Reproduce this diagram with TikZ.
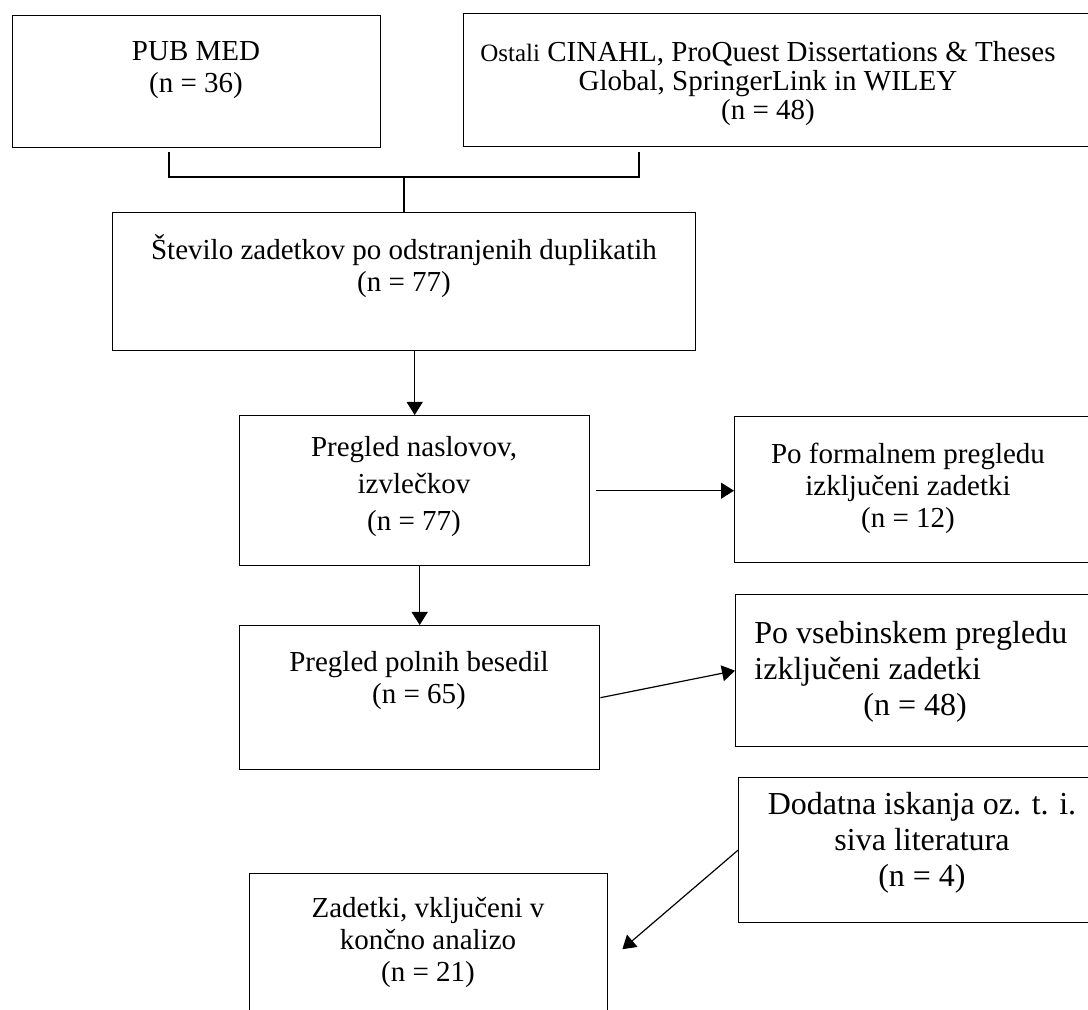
\documentclass[tikz,border=0pt]{standalone}
\usepackage{fontspec}
\setmainfont{Liberation Serif}
\usetikzlibrary{arrows.meta}

\begin{document}
\begin{tikzpicture}[x=0.5pt,y=-0.5pt,
	box/.style={draw,line width=0.7pt,rectangle,anchor=north west,inner sep=0pt},
	txt/.style={align=center,inner sep=0pt,font=\fontsize{14.5}{16}\selectfont},
	bigtxt/.style={align=left,inner sep=0pt,font=\fontsize{16}{18}\selectfont},
	>={Triangle[length=6.5pt,width=8pt]}]
	\useasboundingbox (0,0) rectangle (1088,1010);
	\begin{scope}
		\clip (0,0) rectangle (1088,1010);
		%boxes
		\node[box,minimum width=184pt,minimum height=66pt] (pubmed) at (12,15) {};
		\node[box,minimum width=330pt,minimum height=66.5pt] (ostali) at (463,13) {};
		\node[box,minimum width=291.5pt,minimum height=69pt] (stevilo) at (112,212) {};
		\node[box,minimum width=175pt,minimum height=75pt] (naslovov) at (239,415) {};
		\node[box,minimum width=190pt,minimum height=73pt] (formalni) at (734,416) {};
		\node[box,minimum width=180pt,minimum height=72pt] (polni) at (239,625) {};
		\node[box,minimum width=190pt,minimum height=76pt] (vsebinski) at (735,594) {};
		\node[box,minimum width=190pt,minimum height=72.5pt] (dodatna) at (738,777) {};
		\node[box,minimum width=179pt,minimum height=93.5pt] (zadetki) at (249,873) {};
		%texts
		\node[txt] (pubmedtxt) at (196,70) {PUB MED\\(n = 36)};
		\node[txt,font=\fontsize{14.5}{14.5}\selectfont] (ostalitxt) at (768,84) {{\fontsize{12.5}{14.5}\selectfont Ostali} CINAHL, ProQuest Dissertations \& Theses\\Global, SpringerLink in WILEY\\(n = 48)};
		\node[txt] (stevilotxt) at (404,266) {Število zadetkov po odstranjenih duplikatih\\(n = 77)};
		\node[txt,font=\fontsize{14.5}{18.5}\selectfont] (naslovovtxt) at (414,487) {Pregled naslovov,\\izvlečkov\\(n = 77)};
		\node[txt] (formalnitxt) at (908,488) {Po formalnem pregledu\\izključeni zadetki\\(n = 12)};
		\node[txt] (polnitxt) at (419,681) {Pregled polnih besedil\\(n = 65)};
		\node[bigtxt,anchor=west] (vsebinskitxt) at (754,672) {Po vsebinskem pregledu\\izključeni zadetki\\\hspace*{54.5pt}(n = 48)};
		\node[bigtxt,align=center] (dodatnatxt) at (922,843) {Dodatna iskanja oz. t. i.\\siva literatura\\(n = 4)};
		\node[txt] (zadetkitxt) at (428,942) {Zadetki, vključeni v\\končno analizo\\(n = 21)};
		%bracket
		\coordinate (bl) at (169,152);
		\coordinate (br) at (639,152);
		\coordinate (bm) at (404,177);
		\draw[line width=0.6pt] (bl) |- (bm) -| (br);
		\draw[line width=0.6pt] (bm) -- (bm |- stevilo.north);
		%arrows
		\draw[->,line width=0.6pt] (naslovov.north |- stevilo.south) -- (naslovov.north);
		\draw[->,line width=0.6pt] (polni.north |- naslovov.south) -- (polni.north);
		\draw[->,line width=0.6pt] ([xshift=3pt]naslovov.east) -- (formalni.west |- naslovov.east);
		\draw[->,line width=0.6pt] (polni.east) -- (vsebinski.west);
		\draw[->,line width=0.6pt] (dodatna.west) -- ([xshift=7pt,yshift=9pt]zadetki.east);
	\end{scope}
\end{tikzpicture}
\end{document}
